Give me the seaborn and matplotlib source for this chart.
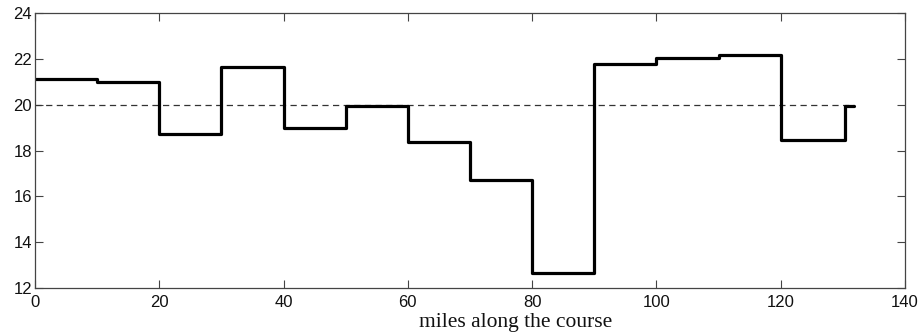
import matplotlib
matplotlib.use("Agg")
import matplotlib.pyplot as plt
import seaborn as sns
import pandas as pd

# data
miles = [0, 10, 20, 30, 40, 50, 60, 70, 80, 90, 100, 110, 120, 130.3, 131.8]
speed = [21.1, 20.97, 18.73, 21.66, 19.0, 19.95, 18.35, 16.73, 12.65, 21.78, 22.04, 22.17, 18.44, 19.95, 19.95]
ref_x = [0, 131.8]
ref_y = [20, 20]
xticks = [0, 20, 40, 60, 80, 100, 120, 140]
yticks = [12, 14, 16, 18, 20, 22, 24]

sns.set_theme(style="white")
plt.rcParams['font.family'] = ['Liberation Sans', 'DejaVu Sans']

df = pd.DataFrame({"miles": miles, "speed": speed})
ref = pd.DataFrame({"x": ref_x, "y": ref_y})

fig = plt.figure(figsize=(9.24, 3.33), dpi=100)
ax = fig.add_axes([35/924, 1-288/333, 870/924, 275/333])

sns.lineplot(data=ref, x="x", y="y", ax=ax, color="#333333", lw=0.9,
             linestyle=(0, (5, 3.5)), estimator=None, sort=False)
sns.lineplot(data=df, x="miles", y="speed", ax=ax, color="black", lw=2.3,
             drawstyle="steps-post", estimator=None, sort=False)

ax.set_xlim(0, 140)
ax.set_ylim(12, 24)
ax.set_xticks(xticks)
ax.set_yticks(yticks)
ax.set_xticklabels([str(t) for t in xticks])
ax.set_yticklabels([str(t) for t in yticks])
ax.tick_params(direction="in", length=6, width=0.8, color="#444444",
               labelsize=12, pad=2, top=True, right=True,
               bottom=True, left=True, labelcolor="#111111")
ax.tick_params(axis="x", pad=5)
for s in ax.spines.values():
    s.set_color("#444444")
    s.set_linewidth(0.9)
ax.set_ylabel("")
ax.set_xlabel("miles along the course", fontfamily="Liberation Serif",
              fontsize=15.5, color="#111111")
ax.xaxis.set_label_coords(0.552, -0.09)
ax.grid(False)

fig.savefig("out.png", dpi=100)
